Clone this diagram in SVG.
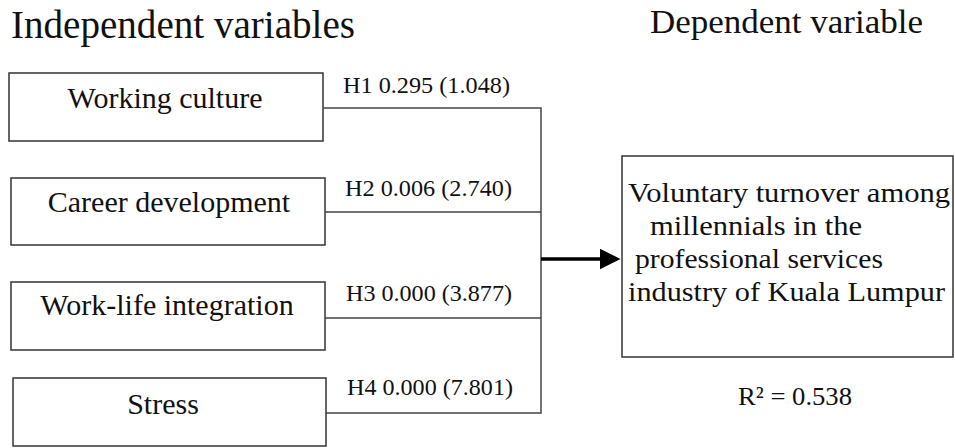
<svg xmlns="http://www.w3.org/2000/svg" width="955" height="448" viewBox="0 0 955 448">
<style>
text{font-family:"Liberation Serif","Times New Roman",serif;fill:#111}
.box{fill:#fff;stroke:#333;stroke-width:1.5}
.lbl{font-size:30px;text-anchor:middle}
.hyp{font-size:23px}
.dv{font-size:28px}
.conn{fill:none;stroke:#444;stroke-width:1.5}
</style>
<defs>
<marker id="ah" markerWidth="6" markerHeight="6" refX="5" refY="3" orient="auto" markerUnits="strokeWidth">
<path d="M0,0 L6,3 L0,6 z" fill="#000"/>
</marker>
</defs>
<text x="11" y="38" style="font-size:39px" textLength="344" lengthAdjust="spacingAndGlyphs">Independent variables</text>
<text x="650" y="33" style="font-size:33px" textLength="273" lengthAdjust="spacingAndGlyphs">Dependent variable</text>
<g id="n1"><rect class="box" x="9" y="73" width="314" height="68"/><text class="lbl" x="165" y="108">Working culture</text></g>
<g id="n2"><rect class="box" x="11" y="178" width="314" height="67"/><text class="lbl" x="169" y="212">Career development</text></g>
<g id="n3"><rect class="box" x="11" y="282" width="314" height="68"/><text class="lbl" x="167" y="315">Work-life integration</text></g>
<g id="n4"><rect class="box" x="13" y="378" width="313" height="68"/><text class="lbl" x="163" y="414">Stress</text></g>
<g id="n5"><rect class="box" x="622" y="156" width="331" height="201"/>
<text class="dv" x="628" y="202" textLength="322" lengthAdjust="spacingAndGlyphs">Voluntary turnover among</text>
<text class="dv" x="650" y="235" textLength="212" lengthAdjust="spacingAndGlyphs">millennials in the</text>
<text class="dv" x="635" y="268" textLength="248" lengthAdjust="spacingAndGlyphs">professional services</text>
<text class="dv" x="628" y="301" textLength="317" lengthAdjust="spacingAndGlyphs">industry of Kuala Lumpur</text>
</g>
<text x="738" y="405" style="font-size:26px" textLength="114" lengthAdjust="spacingAndGlyphs">R² = 0.538</text>
<g id="connectors">
<path class="conn" d="M323,108 H541 V413 H326 M325,212 H541 M325,318 H541"/>
<line x1="541" y1="259" x2="617" y2="259" stroke="#000" stroke-width="3.5" marker-end="url(#ah)"/>
<text class="hyp" x="343" y="93" textLength="167" lengthAdjust="spacingAndGlyphs">H1 0.295 (1.048)</text>
<text class="hyp" x="345" y="196" textLength="167" lengthAdjust="spacingAndGlyphs">H2 0.006 (2.740)</text>
<text class="hyp" x="346" y="301" textLength="166" lengthAdjust="spacingAndGlyphs">H3 0.000 (3.877)</text>
<text class="hyp" x="347" y="395" textLength="166" lengthAdjust="spacingAndGlyphs">H4 0.000 (7.801)</text>
</g>
</svg>
